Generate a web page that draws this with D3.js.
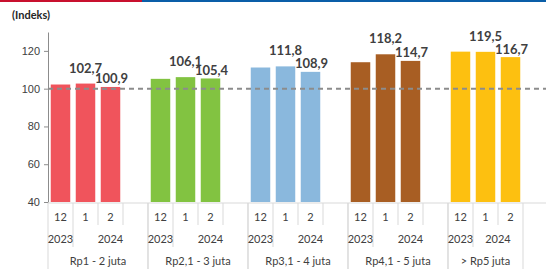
<!DOCTYPE html>
<html>
<head>
<meta charset="utf-8">
<script src="https://cdn.jsdelivr.net/npm/d3@7"></script>
<style>
  body { margin: 0; background: #fff; }
  svg { display: block; font-family: Lato, "Liberation Sans", sans-serif; }
</style>
</head>
<body>
<div id="chart"></div>
<script>
//Data
const groups = ["Rp1 - 2 juta", "Rp2,1 - 3 juta", "Rp3,1 - 4 juta", "Rp4,1 - 5 juta", "> Rp5 juta"];
const months = ["12", "1", "2"];
const years = ["2023", "2024"];
const rp1to2 = [102.2, 102.7, 100.9];
const rp2to3 = [105.2, 106.1, 105.4];
const rp3to4 = [111.2, 111.8, 108.9];
const rp4to5 = [114.0, 118.2, 114.7];
const rpAbove5 = [119.6, 119.5, 116.7];
const colors = ["#f0545c", "#82c341", "#8ab8dd", "#a85e23", "#fdc010"];
const yTicks = [40, 60, 80, 100, 120];
const refLine = 100;

const values = [rp1to2, rp2to3, rp3to4, rp4to5, rpAbove5];

const w = 546;
const h = 269;
const plotLeft = 48;
const plotRight = 523;
const plotTop = 32;
const plotBottom = 202;

const svg = d3.select("#chart")
    .append("svg")
    .attr("width", w)
    .attr("height", h);

//Top stripe
svg.append("rect").attr("x", 0).attr("y", 0).attr("width", 142).attr("height", 2).attr("fill", "#c8102e");
svg.append("rect").attr("x", 142).attr("y", 0).attr("width", w - 142).attr("height", 2).attr("fill", "#0a5ea8");

//Slots: 3 months per group, a blank slot between groups
const slots = [];
groups.forEach((g, gi) => {
    months.forEach((m, mi) => slots.push(gi + "-" + mi));
    if (gi < groups.length - 1) slots.push(gi + "-gap");
});

const x = d3.scaleBand()
    .domain(slots)
    .range([plotLeft, plotRight])
    .paddingInner(0.22)
    .paddingOuter(0.11);

const step = x.step();
const slotStart = (key) => plotLeft + slots.indexOf(key) * step;

const y = d3.scaleLinear()
    .domain([40, 130])
    .range([plotBottom, plotTop]);

//Y axis
const yAxis = svg.append("g")
    .attr("transform", "translate(" + plotLeft + ",0)")
    .call(d3.axisLeft(y).tickValues(yTicks).tickSize(4).tickSizeOuter(0));
yAxis.select(".domain").attr("stroke", "#8c8c8c");
yAxis.selectAll(".tick line").attr("stroke", "#8c8c8c");
yAxis.selectAll(".tick text")
    .attr("x", -8)
    .attr("fill", "#404040")
    .style("font-size", "11px");

svg.append("text")
    .attr("x", 12)
    .attr("y", 19)
    .attr("fill", "#262626")
    .style("font-size", "11px")
    .style("font-weight", "bold")
    .text("(Indeks)");

//Bars
const barData = [];
values.forEach((arr, gi) => arr.forEach((v, mi) => barData.push({ g: gi, m: mi, v: v })));

svg.append("g").selectAll("rect")
    .data(barData)
    .enter()
    .append("rect")
    .attr("x", d => x(d.g + "-" + d.m))
    .attr("width", x.bandwidth())
    .attr("y", d => y(d.v))
    .attr("height", d => y(40) - y(d.v))
    .attr("fill", d => colors[d.g]);

//Reference line at 100
svg.append("line")
    .attr("x1", plotLeft)
    .attr("x2", w)
    .attr("y1", y(refLine))
    .attr("y2", y(refLine))
    .attr("stroke", "#8c8c8c")
    .attr("stroke-width", 2)
    .attr("stroke-dasharray", "5,4");

//Value labels, only the 2024 months carry one
svg.append("g").selectAll("text")
    .data(barData.filter(d => d.m > 0))
    .enter()
    .append("text")
    .attr("x", d => x(d.g + "-" + d.m) + x.bandwidth() / 2 + (d.m === 2 ? 1 : 0))
    .attr("y", d => y(d.v) - (d.m === 1 ? 11 : 3.5))
    .attr("text-anchor", "middle")
    .attr("fill", "#404040")
    .style("font-size", "13px")
    .style("font-weight", "bold")
    .text(d => d3.format(".1f")(d.v).replace(".", ","));

//Category axis
const axisY = plotBottom + 1;
svg.append("line")
    .attr("x1", plotLeft).attr("x2", w)
    .attr("y1", axisY).attr("y2", axisY)
    .attr("stroke", "#d9d9d9");

const sep = svg.append("g").attr("stroke", "#d9d9d9").attr("stroke-width", 1);
const row1 = 225, row2 = 247;

groups.forEach((g, gi) => {
    const last = gi === groups.length - 1;
    const gStart = slotStart(gi + "-0");
    const gEnd = gStart + (last ? 3 : 4) * step;
    //group boundaries
    sep.append("line").attr("x1", gStart).attr("x2", gStart).attr("y1", axisY).attr("y2", h);
    sep.append("line").attr("x1", gEnd).attr("x2", gEnd).attr("y1", axisY).attr("y2", h);
    //month boundaries
    for (let k = 1; k < (last ? 3 : 4); k++) {
        const xx = gStart + k * step;
        sep.append("line").attr("x1", xx).attr("x2", xx).attr("y1", axisY).attr("y2", k === 1 ? row2 : row1);
    }
    //month labels
    months.forEach((m, mi) => {
        svg.append("text")
            .attr("x", x(gi + "-" + mi) + x.bandwidth() / 2)
            .attr("y", 221)
            .attr("text-anchor", "middle")
            .attr("fill", "#404040")
            .style("font-size", "11px")
            .text(m);
    });
    //year labels
    svg.append("text")
        .attr("x", gStart + step / 2)
        .attr("y", 243)
        .attr("text-anchor", "middle")
        .attr("fill", "#404040")
        .style("font-size", "11px")
        .text(years[0]);
    svg.append("text")
        .attr("x", (gStart + step + gEnd) / 2)
        .attr("y", 243)
        .attr("text-anchor", "middle")
        .attr("fill", "#404040")
        .style("font-size", "11px")
        .text(years[1]);
    //group label
    svg.append("text")
        .attr("x", (gStart + gEnd) / 2)
        .attr("y", 265)
        .attr("text-anchor", "middle")
        .attr("fill", "#404040")
        .style("font-size", "11px")
        .text(g);
});
</script>
</body>
</html>
